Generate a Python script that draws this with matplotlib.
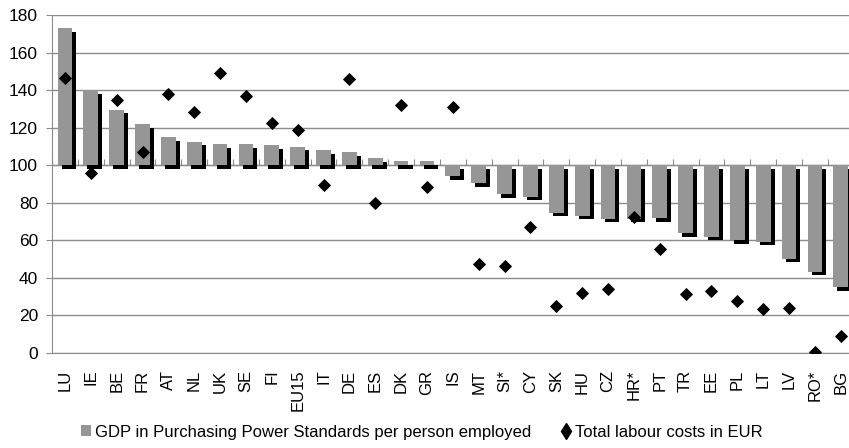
import numpy as np
import matplotlib
matplotlib.use("Agg")
import matplotlib.pyplot as plt
import matplotlib.patheffects as pe
from matplotlib.lines import Line2D
from matplotlib.patches import Patch

countries = ["LU", "IE", "BE", "FR", "AT", "NL", "UK", "SE", "FI", "EU15", "IT", "DE", "ES", "DK", "GR", "IS",
             "MT", "SI*", "CY", "SK", "HU", "CZ", "HR*", "PT", "TR", "EE", "PL", "LT", "LV", "RO*", "BG"]
gdp_pps = [173, 140, 129.5, 122, 115, 112.5, 111.3, 111.3, 110.6, 109.8, 108.1, 106.9, 103.8, 102.2, 102.2, 94.2,
           90.3, 84.5, 83.3, 74.8, 73.1, 71.5, 71.5, 71.7, 63.7, 62, 60.2, 59.3, 50.3, 43.3, 35]
labour_costs = [146.6, 96, 134.7, 107.2, 137.7, 128.5, 149.3, 137, 122.6, 118.7, 89.5, 145.7, 79.7, 132, 88.6, 131.2,
                47.4, 46.5, 67.1, 25.2, 32.1, 33.9, 72.4, 55.3, 31.2, 33, 27.9, 23.4, 23.8, 0.6, 9.2]
baseline = 100
yticks = [0, 20, 40, 60, 80, 100, 120, 140, 160, 180]
legend_labels = ["GDP in Purchasing Power Standards per person employed", "Total labour costs in EUR"]

plt.rcParams['font.family'] = ['Liberation Sans', 'DejaVu Sans']

W, H = 849, 448
fig = plt.figure(figsize=(W / 100, H / 100), dpi=100)
left_px, right_px, top_px, bottom_px = 52.0, 853.7, 15.0, 353.0
ax = fig.add_axes([left_px / W, (H - bottom_px) / H, (right_px - left_px) / W, (bottom_px - top_px) / H])

grid_c = "#8c8c8c"
bar_c = "#969696"
x = np.arange(len(countries))
heights = np.array(gdp_pps) - baseline
bars = ax.bar(x, heights, bottom=baseline, width=0.57, color=bar_c, zorder=2)
for b in bars:
    b.set_path_effects([pe.SimplePatchShadow(offset=(2.9, -2.6), shadow_rgbFace="black", alpha=1.0), pe.Normal()])

ax.plot(x, labour_costs, linestyle="none", marker="D", color="black", markersize=6.5, markeredgewidth=0.6, zorder=4)

ax.set_xlim(-0.5, len(countries) - 0.5)
ax.set_ylim(yticks[0], yticks[-1])
ax.set_yticks(yticks)
ax.yaxis.grid(True, color=grid_c, linewidth=1.0)
ax.set_axisbelow(True)
for s in ["top", "right"]:
    ax.spines[s].set_visible(False)
ax.spines["left"].set_color(grid_c)
ax.spines["bottom"].set_color(grid_c)
ax.tick_params(axis="y", direction="out", length=4, color=grid_c, labelsize=12.5, pad=6)
ax.set_xticks(x)
ax.set_xticklabels(countries, rotation=90, fontsize=12)
ax.tick_params(axis="x", length=0, pad=12)

# category axis crossing at the baseline
frac = (baseline - yticks[0]) / (yticks[-1] - yticks[0])
sec = ax.secondary_xaxis(frac)
sec.spines["bottom"].set_color(grid_c)
sec.set_xticks(np.arange(-0.5, len(countries), 1.0))
sec.set_xticklabels([])
sec.tick_params(direction="out", length=4, color=grid_c)

handles = [Patch(facecolor=bar_c, edgecolor="none"),
           Line2D([], [], linestyle="none", marker="d", color="black", markersize=8)]
fig.legend(handles, legend_labels, loc="center", bbox_to_anchor=(0.497, 1 - 432 / H), ncol=2, frameon=False,
           fontsize=12, handlelength=0.6, handleheight=0.6, handletextpad=0.25, columnspacing=1.8,
           borderaxespad=0)

fig.savefig("out.png", dpi=100)
